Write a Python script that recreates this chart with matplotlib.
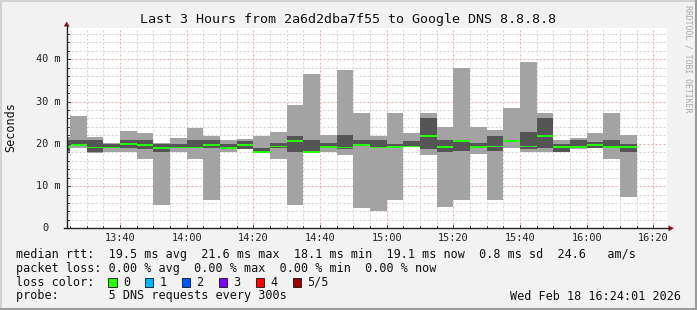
import matplotlib
matplotlib.use("Agg")
import matplotlib.pyplot as plt
from matplotlib.patches import Polygon, Rectangle
from matplotlib.lines import Line2D

# ---------------- data ----------------
title = "Last 3 Hours from 2a6d2dba7f55 to Google DNS 8.8.8.8"
first_interval_end = "13:25"      # end of first 5-minute probe interval
interval_min = 5
# five DNS pings per interval, sorted (ms)
ping_min = [18.1, 18.9, 17.9, 18.0, 18.0, 16.3, 5.6, 18.0, 16.4, 6.7,
            18.0, 18.7, 17.9, 16.3, 5.6, 17.9, 18.0, 17.4, 4.9, 4.2,
            6.7, 19.2, 17.4, 5.1, 6.7, 17.5, 6.7, 18.9, 18.0, 18.0,
            18.0, 18.8, 18.9, 16.4, 7.5]
ping_p2 = [18.4, 19.6, 18.1, 19.0, 19.1, 18.8, 18.0, 18.9, 19.0, 19.1,
           18.9, 18.8, 18.0, 19.0, 18.0, 18.0, 19.0, 18.8, 19.6, 18.9,
           19.0, 19.3, 18.8, 18.0, 18.2, 19.0, 18.4, 20.5, 18.8, 18.9,
           18.1, 19.0, 19.1, 19.0, 18.1]
median = [19.2, 19.8, 19.1, 19.1, 20.0, 19.7, 19.0, 19.1, 19.1, 19.8,
          19.0, 19.8, 18.1, 19.4, 20.7, 18.1, 19.2, 19.1, 19.8, 19.1,
          19.2, 19.4, 21.8, 19.3, 20.7, 19.2, 19.4, 20.7, 19.4, 21.8,
          19.2, 19.2, 19.8, 19.2, 19.2]
ping_p4 = [20.8, 21.0, 21.0, 20.0, 21.0, 20.8, 19.9, 20.0, 21.0, 21.0,
           20.0, 20.7, 19.1, 20.3, 21.9, 21.0, 20.3, 22.0, 21.0, 21.0,
           20.0, 20.7, 26.2, 21.0, 20.8, 20.3, 21.9, 20.8, 22.7, 26.2,
           20.0, 20.8, 20.5, 21.0, 20.0]
ping_max = [21.7, 26.5, 21.7, 20.3, 23.0, 22.6, 20.1, 21.5, 23.8, 21.9,
            21.0, 21.2, 21.9, 22.7, 29.2, 36.6, 22.1, 37.5, 27.2, 21.9,
            27.4, 22.6, 27.4, 24.1, 38.0, 23.9, 23.3, 28.6, 39.4, 27.2,
            21.0, 21.3, 22.6, 27.2, 22.0]

x_tick_labels = ["13:40", "14:00", "14:20", "14:40", "15:00", "15:20", "15:40", "16:00", "16:20"]
y_tick_values = [0, 10, 20, 30, 40]
y_tick_labels = ["0", "10 m", "20 m", "30 m", "40 m"]

legend_lines = [
    "median rtt:  19.5 ms avg  21.6 ms max  18.1 ms min  19.1 ms now  0.8 ms sd  24.6   am/s",
    "packet loss: 0.00 % avg  0.00 % max  0.00 % min  0.00 % now",
]
loss_labels = ["0", "1", "2", "3", "4", "5/5"]
loss_colors = ["#26ff00", "#00b8ff", "#0059ff", "#7e00ff", "#ff0000", "#a00000"]
probe_text = "probe:       5 DNS requests every 300s"
stamp_text = "Wed Feb 18 16:24:01 2026"

# ---------------- layout ----------------
W, H = 697, 310
BG = "#f2f2f2"
MONO = "DejaVu Sans Mono"
fig = plt.figure(figsize=(W / 100, H / 100), dpi=100, facecolor=BG)


def fx(px):
    return px / W


def fy(py):
    return 1 - py / H


AX_L, AX_R, AX_T, AX_B = 66.7, 666.7, 27.7, 228.3
ax = fig.add_axes([fx(AX_L), fy(AX_B), (AX_R - AX_L) / W, (AX_B - AX_T) / H])
ax.set_facecolor("white")


def tmin(s):
    h, m = s.split(":")
    return int(h) * 60 + int(m)


x_start = tmin("13:24") + 1 / 60.0
x_end = x_start + 180
ax.set_xlim(x_start, x_end)
ax.set_ylim(0, 47.5)

# grid
minor_col, major_col = "#d2d2d2", "#f0a8a8"
gkw = dict(linewidth=0.72, dashes=(2, 2), zorder=0.5)
major_x = [tmin(s) for s in x_tick_labels]
t = tmin("13:25")
while t < x_end:
    if t not in major_x:
        ax.axvline(t, color=minor_col, **gkw)
    t += 5
for t in major_x:
    ax.axvline(t, color=major_col, **gkw)
for v in range(2, 48, 2):
    ax.axhline(v, color=(major_col if v % 10 == 0 else minor_col), **gkw)

# smoke
end0 = tmin(first_interval_end)
centers = [end0 + i * interval_min - interval_min / 2 for i in range(len(median))]
ax.bar(centers, [b - a for a, b in zip(ping_min, ping_max)], bottom=ping_min,
       width=interval_min, color="#a3a3a3", linewidth=0, zorder=2)
ax.bar(centers, [b - a for a, b in zip(ping_p2, ping_p4)], bottom=ping_p2,
       width=interval_min, color="#555555", linewidth=0, zorder=3)
mh = 0.4
ax.bar(centers, [mh] * len(median), bottom=[m - mh / 2 for m in median],
       width=interval_min, color=loss_colors[0], linewidth=0, zorder=4)

ax.set_xticks([])
ax.set_yticks([])
for s in ["top", "right", "left", "bottom"]:
    ax.spines[s].set_visible(False)

# ticks
tick_col = "#444444"
for t in range(tmin("13:25"), int(x_end) + 1, 5):
    ln = 3 if t in major_x else 2
    xp = AX_L + (t - x_start) / 180 * (AX_R - AX_L)
    fig.add_artist(Line2D([fx(xp), fx(xp)], [fy(AX_B), fy(AX_B - ln)], color=tick_col, lw=0.72))
for v in range(2, 48, 2):
    ln = 3 if v % 10 == 0 else 2
    yp = AX_B - v / 47.5 * (AX_B - AX_T)
    fig.add_artist(Line2D([fx(AX_L), fx(AX_L + ln)], [fy(yp), fy(yp)], color=tick_col, lw=0.72))

# tick labels
for s in x_tick_labels:
    xp = AX_L + (tmin(s) - x_start) / 180 * (AX_R - AX_L)
    fig.text(fx(xp), fy(238.3), s, family=MONO, fontsize=7.4, ha="center", va="center", color="#222222")
for v, s in zip(y_tick_values, y_tick_labels):
    yp = AX_B - v / 47.5 * (AX_B - AX_T)
    xr = 60.5 if s != "0" else 48.5
    fig.text(fx(xr), fy(yp), s, family=MONO, fontsize=7.4, ha="right", va="center", color="#222222")

# axes lines + arrows
axis_col = "#222222"
arrow_col = "#8b1a1a"
fig.add_artist(Line2D([fx(AX_L), fx(AX_L)], [fy(AX_B), fy(25.5)], color=axis_col, lw=1.0))
fig.add_artist(Line2D([fx(AX_L - 3), fx(669)], [fy(AX_B), fy(AX_B)], color=axis_col, lw=1.0))
fig.add_artist(Polygon([[fx(AX_L - 3), fy(26.5)], [fx(AX_L + 3), fy(26.5)], [fx(AX_L), fy(21.5)]],
                       closed=True, color=arrow_col, lw=0))
fig.add_artist(Polygon([[fx(668.5), fy(AX_B - 3)], [fx(668.5), fy(AX_B + 3)], [fx(674), fy(AX_B)]],
                       closed=True, color=arrow_col, lw=0))

# texts
fig.text(fx(348), fy(19.3), title, family=MONO, fontsize=9.6, ha="center", va="center", color="#111111")
fig.text(fx(10.5), fy(127), "Seconds", family=MONO, fontsize=8.45, rotation=90,
         ha="center", va="center", color="#111111")
fig.text(fx(688), fy(59), "RRDTOOL / TOBI OETIKER", family=MONO, fontsize=5.9, rotation=270,
         ha="center", va="center", color="#a8a8a8")

LEG_X = 15.5
row_y = [254.3, 268.3, 282.3, 296.0]
for y, s in zip(row_y[:2], legend_lines):
    fig.text(fx(LEG_X), fy(y), s, family=MONO, fontsize=8.45, ha="left", va="center", color="#111111")
fig.text(fx(LEG_X), fy(row_y[2]), "loss color:", family=MONO, fontsize=8.45, ha="left", va="center",
         color="#111111")
for i, (lab, col) in enumerate(zip(loss_labels, loss_colors)):
    bx = 108.3 + 36.9 * i
    fig.add_artist(Rectangle((fx(bx), fy(286.5)), 8.3 / W, 8.3 / H, facecolor=col,
                             edgecolor="#111111", lw=0.6))
    fig.text(fx(bx + 14.5), fy(row_y[2]), lab, family=MONO, fontsize=8.45, ha="left", va="center",
             color="#111111")
fig.text(fx(LEG_X), fy(row_y[3]), probe_text, family=MONO, fontsize=8.45, ha="left", va="center",
         color="#111111")
fig.text(fx(681), fy(row_y[3]), stamp_text, family=MONO, fontsize=8.45, ha="right", va="center",
         color="#111111")

# 3D-ish frame
fig.add_artist(Line2D([0, 1], [fy(0.75), fy(0.75)], color="#d2d2d2", lw=1.5))
fig.add_artist(Line2D([fx(0.75), fx(0.75)], [0, 1], color="#d2d2d2", lw=1.5))
fig.add_artist(Line2D([0, 1], [fy(H - 0.75), fy(H - 0.75)], color="#9a9a9a", lw=1.5))
fig.add_artist(Line2D([fx(W - 0.75), fx(W - 0.75)], [0, 1], color="#9a9a9a", lw=1.5))

fig.savefig("out.png", dpi=100, facecolor=BG)
